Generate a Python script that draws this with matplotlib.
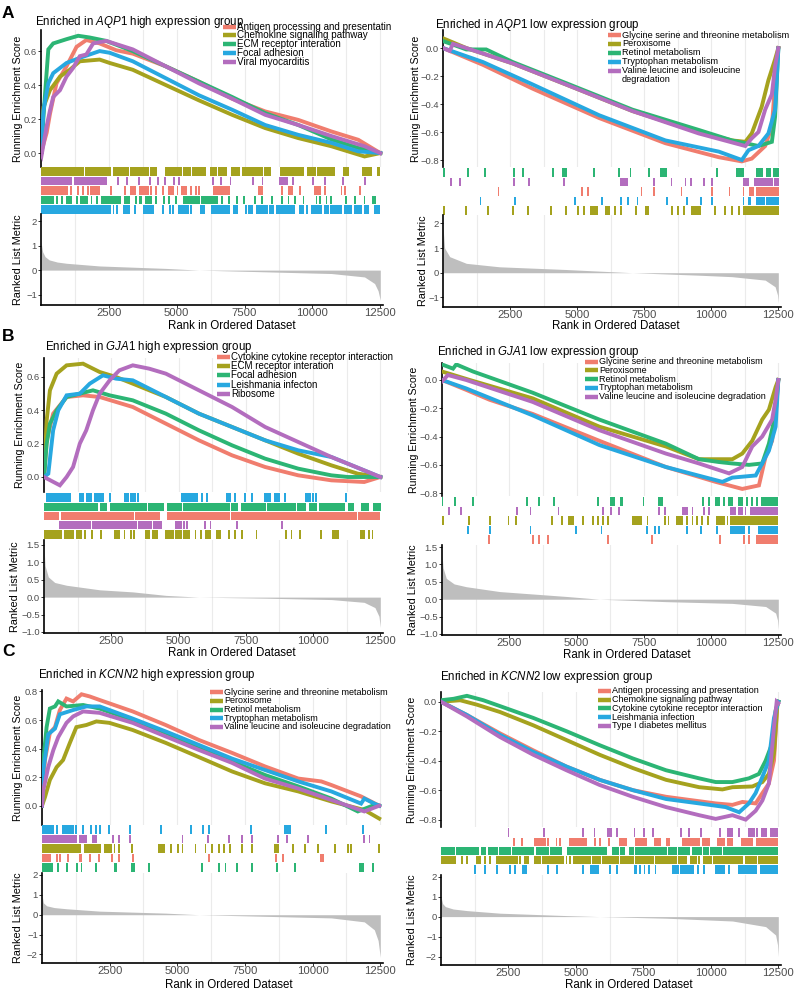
import matplotlib
matplotlib.use('Agg')
import matplotlib.pyplot as plt
from matplotlib.lines import Line2D

plt.rcParams['font.family'] = ['Liberation Sans', 'DejaVu Sans']
plt.rcParams['mathtext.fontset'] = 'custom'
plt.rcParams['mathtext.rm'] = 'Liberation Sans'
plt.rcParams['mathtext.it'] = 'Liberation Sans:italic'

palette = ['#F07D6E', '#A5A21E', '#2CB574', '#27A8E0', '#B36DBE']
xticks = [2500, 5000, 7500, 10000, 12500]

# ---------------- A : AQP1 high ----------------
aqp1_high_sets = ['Antigen processing and presentatin', 'Chemokine signaling pathway',
                  'ECM receptor interation', 'Focal adhesion', 'Viral myocarditis']
aqp1_high_rank = [
    [0, 210, 330, 570, 940, 1310, 1670, 2160, 2770, 3380, 4600, 5820, 7040, 8260, 9480, 10700, 11690, 12500],
    [0, 90, 330, 700, 1060, 1430, 2160, 2530, 3380, 4600, 5820, 7040, 8260, 9480, 10700, 11920, 12500],
    [0, 150, 270, 450, 940, 1370, 1790, 2400, 3380, 5820, 7040, 8260, 9480, 10700, 11690, 12500],
    [0, 90, 270, 450, 940, 1430, 2160, 2530, 3380, 4600, 5820, 7040, 8260, 9480, 10700, 11690, 12500],
    [0, 25, 210, 330, 450, 700, 940, 1180, 1430, 1670, 1920, 2400, 3380, 4600, 5820, 7040, 8260, 9480, 10700, 11920, 12500],
]
aqp1_high_es = [
    [0, 0.12, 0.23, 0.41, 0.51, 0.625, 0.665, 0.645, 0.605, 0.585, 0.51, 0.42, 0.32, 0.245, 0.195, 0.127, 0.078, 0.0],
    [0, 0.27, 0.37, 0.45, 0.49, 0.54, 0.55, 0.53, 0.49, 0.40, 0.31, 0.225, 0.147, 0.088, 0.04, -0.02, 0.0],
    [0, 0.35, 0.61, 0.645, 0.67, 0.69, 0.68, 0.66, 0.6, 0.42, 0.33, 0.235, 0.165, 0.08, 0.03, 0.0],
    [0, 0.25, 0.41, 0.47, 0.53, 0.56, 0.6, 0.59, 0.54, 0.44, 0.34, 0.255, 0.165, 0.107, 0.06, 0.01, 0.0],
    [0, -0.01, 0.16, 0.25, 0.33, 0.37, 0.45, 0.5, 0.57, 0.58, 0.645, 0.66, 0.61, 0.51, 0.41, 0.32, 0.225, 0.165, 0.1, 0.04, 0.0],
]
aqp1_high_hits = [
    [(0, 950), 1120, 1370, 1550, 1740, (1850, 2150), 2590, 3080, (3300, 3450), (3630, 3950), 4060, 4240, 4480,
     (4720, 4850), 5030, (5210, 5340), 5510, 5700, 5830, (6370, 6920), (8020, 8150), 8880, (9120, 9240), 9550,
     (10100, 10280), 10450, 11070, 11190, 11740],
    [(0, 1550), (1650, 2530), (2700, 2900), (3000, 3200), (3300, 3600), (3700, 3950), (4050, 4250), (4600, 5150),
     (5250, 5500), (5600, 5700), (5800, 6050), (6250, 6450), (6550, 6800), (7050, 7300), (7450, 8150), (8250, 8450),
     (8850, 9500), (9550, 9650), (9850, 10100), (10200, 10400), (10450, 10800), (11150, 11300), (11850, 12150), (12400, 12450)],
    [(0, 450), 580, 760, (940, 1120), 1310, (1490, 1680), 1860, 2050, (2230, 2540), (2600, 2900), (3080, 3260), 3500,
     (3630, 3690), (3870, 4050), 4240, 4540, 4720, 4970, (5270, 5830), (5940, 6430), 6490, 6680, 6930, 7230, 7470, 7890,
     8140, 8500, 8870, 9120, 9360, 9670, 10150, 10280, 10520, 10700, 11250, 11560, 11920, 12230, 12290],
    [(25, 635), (700, 1430), (1490, 1980), (2040, 2160), (2220, 2530), 2670, 2790, (3070, 3260), 3460, (3810, 4110), 4500,
     4750, 4870, (5090, 5330), 5420, 5540, (5880, 6000), (6310, 6730), (6800, 6920), (7100, 7220), 7550, (7650, 7770),
     (7950, 8320), (8440, 8560), (8690, 9240), 9320, (9540, 9660), 9810, (9970, 10330), (10460, 10580), (10700, 11070),
     (11190, 11430), (11550, 11800), (11920, 12040), (12290, 12470)],
    [(0, 950), (1000, 1100), (1250, 2050), (2150, 2400), 2830, 3160, 3620, 4000, 4300, 4560, 4900, 5100, 6330, 6640,
     6980, 7800, 8160, (8800, 9050), 9300, 10030, 10450, 11130, 11950],
]
aqp1_high_rows = [1, 4, 0, 2, 3]
aqp1_high_metric_rank = [0, 60, 150, 300, 600, 940, 2160, 4600, 5820, 8260, 10700, 11920, 12290, 12420, 12500]
aqp1_high_metric = [1.15, 0.75, 0.55, 0.42, 0.33, 0.28, 0.17, 0.07, 0.0, -0.07, -0.14, -0.28, -0.55, -0.85, -1.24]

# ---------------- A : AQP1 low ----------------
aqp1_low_sets = ['Glycine serine and threonine metabolism', 'Peroxisome', 'Retinol metabolism',
                 'Tryptophan metabolism', 'Valine leucine and isoleucine\ndegradation']
aqp1_low_rank = [
    [0, 1490, 3340, 5820, 8290, 10280, 11140, 11510, 12010, 12260, 12380, 12500],
    [0, 870, 2600, 4580, 7060, 9530, 10770, 11270, 11510, 11880, 12130, 12380, 12500],
    [0, 870, 1610, 2600, 4580, 7060, 9530, 10770, 11270, 11760, 12260, 12380, 12500],
    [0, 1490, 3340, 5820, 8290, 10280, 11140, 11390, 11760, 12130, 12380, 12500],
    [0, 250, 370, 870, 2600, 4580, 7060, 9530, 11270, 11510, 11760, 12010, 12260, 12380, 12500],
]
aqp1_low_es = [
    [0, -0.12, -0.29, -0.5, -0.68, -0.78, -0.81, -0.79, -0.7, -0.56, -0.25, 0],
    [0.07, 0, -0.11, -0.26, -0.45, -0.6, -0.66, -0.67, -0.61, -0.42, -0.23, -0.08, 0],
    [0.05, -0.01, -0.01, -0.1, -0.25, -0.44, -0.585, -0.66, -0.68, -0.70, -0.67, -0.49, 0],
    [0, -0.1, -0.26, -0.48, -0.66, -0.74, -0.8, -0.73, -0.7, -0.61, -0.44, -0.01],
    [0, -0.02, 0.03, 0, -0.11, -0.26, -0.45, -0.61, -0.70, -0.645, -0.6, -0.44, -0.33, -0.13, 0],
]
aqp1_low_hits = [
    [2070, 5170, 5420, 7400, 7860, 8890, 10030, 10680, 11200, (11450, 11570), (11700, 11830), (11870, 12000), (12050, 12500)],
    [40, 870, 1670, 2620, 3180, 4020, 4580, 5040, 5260, (5510, 5760), (6070, 6190), 6410, 6620, 7210, (7550, 7650), 8540,
     8770, 8980, (9280, 9590), 10150, 10520, 10770, 11020, (11200, 12500)],
    [40, 930, 1580, 2660, 2970, 4090, (4460, 4580), 5630, 6560, 6990, 7670, (8110, 8300), 10210, (10960, 11200),
     (11700, 11880), (12070, 12190), (12320, 12500)],
    [1400, 2690, 4930, 5940, 6650, 6900, 7250, 8360, 9110, 9630, 10030, 11200, (11390, 11450), (11700, 11950),
     (12070, 12200), (12260, 12500)],
    [310, 620, 2660, 3220, 4520, (6620, 6870), 7860, 8520, 9040, 9260, 9720, 10030, (11200, 11390), (11640, 12010),
     (12070, 12260), (12380, 12500)],
]
aqp1_low_rows = [2, 4, 0, 3, 1]
aqp1_low_metric_rank = [0, 60, 250, 870, 2100, 4580, 7060, 9530, 10770, 12010, 12380, 12470, 12500]
aqp1_low_metric = [1.85, 1.0, 0.65, 0.38, 0.24, 0.13, 0.0, -0.1, -0.16, -0.3, -0.57, -0.9, -1.24]

# ---------------- B : GJA1 high ----------------
gja1_high_sets = ['Cytokine cytokine receptor interaction', 'ECM receptor interation', 'Focal adhesion',
                  'Leishmania infecton', 'Ribosome']
gja1_high_rank = [
    [0, 100, 340, 840, 1450, 2070, 3300, 4530, 5760, 6990, 8220, 9450, 10680, 11900, 12500],
    [0, 100, 220, 470, 840, 1450, 2070, 2680, 3300, 4530, 5760, 6990, 8220, 9450, 10680, 11660, 12500],
    [0, 100, 220, 470, 840, 1570, 1820, 2440, 3300, 4530, 5760, 6990, 8220, 9450, 10680, 11290, 12500],
    [0, 160, 340, 530, 840, 1330, 1700, 2190, 2680, 3300, 4530, 5760, 6990, 8220, 9450, 10680, 11290, 12500],
    [0, 590, 840, 1080, 1330, 1570, 1820, 2070, 2440, 2800, 3300, 3910, 4530, 5760, 6990, 8220, 9450, 10680, 11900, 12500],
]
gja1_high_es = [
    [0, 0.22, 0.38, 0.48, 0.49, 0.48, 0.42, 0.32, 0.22, 0.13, 0.06, 0.01, -0.02, -0.03, 0],
    [0, 0.34, 0.52, 0.62, 0.67, 0.68, 0.63, 0.6, 0.56, 0.48, 0.38, 0.3, 0.22, 0.14, 0.07, 0.02, 0],
    [0, 0.2, 0.32, 0.4, 0.48, 0.51, 0.52, 0.49, 0.46, 0.38, 0.28, 0.19, 0.11, 0.05, 0.01, 0, 0],
    [0, 0.02, 0.28, 0.4, 0.49, 0.5, 0.56, 0.61, 0.59, 0.58, 0.48, 0.38, 0.3, 0.22, 0.16, 0.12, 0.08, 0],
    [0, -0.05, 0, 0.06, 0.2, 0.28, 0.4, 0.5, 0.58, 0.64, 0.67, 0.65, 0.62, 0.52, 0.42, 0.3, 0.21, 0.12, 0.04, 0],
]
gja1_high_hits = [
    [(40, 530), (650, 1450), (1510, 2070), (2130, 3300), (3420, 4280), (4590, 6250), (6310, 6860), (6990, 11600), (11720, 12460)],
    [(40, 650), (780, 900), (960, 1080), (1210, 1390), 1520, 1770, 2130, (2620, 2800), 2990, 3240, 3360, (3790, 3910),
     (4040, 4220), (4530, 4780), (4900, 5080), (5210, 5390), 5630, 5820, (6010, 6190), (6430, 6560), 6860, 7110, 7360,
     7900, 9010, 9200, 9510, 10310, (10740, 10920), (11780, 11900), 12090, 12210],
    [(40, 1990), (2130, 2310), (2500, 2870), (2940, 3530), (3600, 3780), (3910, 4150), (4220, 4410), (4590, 4830),
     (4900, 5080), (5210, 5450), (5510, 5820), (5880, 6130), (6190, 6860), (6990, 7170), (7360, 8220), (8340, 8710),
     (8770, 9320), (9450, 9690), (9880, 10120), (10250, 10490), (10550, 11170), (11350, 11470), (11810, 12050), (12250, 12500)],
    [(100, 350), (400, 650), (700, 960), (1330, 1450), (1580, 1760), (1880, 2190), 2440, (2990, 3130), (3240, 3370), 3480,
     (5140, 5450), (5510, 5700), 5880, 6070, (6800, 6920), 7110, 7480, 7720, (8220, 8400), (8590, 8720), 8960,
     (9750, 9880), 10000, 10120, 11230],
    [(590, 830), (900, 1700), (1820, 3420), (3530, 3780), (3840, 3970), (4090, 4340), (4900, 5080), 5200, 5330, 5990,
     6190, 7170, 8830],
]
gja1_high_rows = [3, 2, 0, 4, 1]
gja1_high_metric_rank = [0, 40, 160, 400, 840, 2070, 3300, 4530, 5760, 8220, 10680, 11900, 12300, 12450, 12500]
gja1_high_metric = [1.45, 0.9, 0.58, 0.42, 0.34, 0.21, 0.15, 0.05, 0.0, -0.03, -0.07, -0.15, -0.3, -0.55, -0.87]

# ---------------- B : GJA1 low ----------------
gja1_low_sets = ['Glycine serine and threonine metabolism', 'Peroxisome', 'Retinol metabolism',
                 'Tryptophan metabolism', 'Valine leucine and isoleucine degradation']
gja1_low_rank = [
    [0, 900, 1770, 3370, 5850, 8320, 10170, 11160, 11780, 12030, 12270, 12500],
    [0, 1030, 3370, 5850, 8320, 9550, 10790, 11160, 11530, 11900, 12150, 12400, 12500],
    [0, 410, 530, 1150, 3370, 5850, 8320, 9550, 10300, 10790, 11410, 11900, 12150, 12400, 12500],
    [0, 900, 3370, 5850, 8320, 10420, 10790, 11660, 11900, 12150, 12400, 12500],
    [0, 220, 900, 3370, 5850, 8320, 9550, 10670, 11160, 11530, 11900, 12270, 12400, 12500],
]
gja1_low_es = [
    [0, -0.07, -0.14, -0.24, -0.43, -0.615, -0.72, -0.77, -0.745, -0.54, -0.43, 0],
    [0.06, 0, -0.13, -0.33, -0.47, -0.56, -0.56, -0.52, -0.43, -0.28, -0.21, -0.05, 0],
    [0.11, 0.08, 0.11, 0.06, -0.09, -0.28, -0.45, -0.56, -0.58, -0.59, -0.6, -0.59, -0.45, -0.24, 0],
    [0, -0.06, -0.25, -0.46, -0.615, -0.72, -0.69, -0.675, -0.59, -0.5, -0.33, 0],
    [-0.01, 0.035, 0, -0.155, -0.355, -0.52, -0.59, -0.66, -0.615, -0.47, -0.4, -0.28, -0.14, 0],
]
gja1_low_hits = [
    [1740, 3370, 3600, 3930, 6180, 7790, 10330, 11220, 11410, (11720, 12460)],
    [40, 1000, 1800, 2470, 2760, 4080, 4460, (4730, 4860), 5230, 5600, 5810, 5970, 6180, (7080, 7390), 7640, 8280,
     8420, (8750, 8940), 9120, 9310, 9490, 9680, 9890, (10230, 10480), 10610, (10730, 12460)],
    [10, 470, 1150, 3160, 3620, 4150, 5810, (6280, 6400), (6650, 6710), 7490, (8070, 8190), 9700, 9920, (10170, 10300),
     10480, (10670, 10790), (11040, 11160), 11350, 11530, 11720, (11900, 12460)],
    [960, 1770, 3290, 4980, 5930, 7610, 7910, 8070, 9120, 9620, 10210, (10730, 11220), 11410, (11780, 12460)],
    [250, 690, 2790, 3290, 4330, 5970, 6280, 6590, 8070, 8280, (8940, 9120), 9310, 9740, 9920, (10730, 10910),
     (11040, 11160), 11280, (11470, 11840), (11900, 12460)],
]
gja1_low_rows = [2, 4, 1, 3, 0]
gja1_low_metric_rank = [0, 40, 160, 450, 900, 2140, 4610, 5850, 8320, 10790, 12030, 12400, 12470, 12500]
gja1_low_metric = [1.33, 0.9, 0.6, 0.44, 0.36, 0.22, 0.08, 0.0, -0.07, -0.12, -0.21, -0.4, -0.6, -0.88]

# ---------------- C : KCNN2 high ----------------
kcnn2_high_sets = ['Glycine serine and threonine metabolism', 'Peroxisome', 'Retinol metabolism',
                   'Tryptophan metabolism', 'Valine leucine and isoleucine degradation']
kcnn2_high_rank = [
    [0, 110, 290, 480, 660, 905, 1150, 1460, 1760, 2130, 3350, 4570, 5800, 7020, 8240, 9470, 10320, 10690, 11790, 12460],
    [0, 110, 290, 540, 780, 1030, 1270, 1640, 2010, 2490, 3350, 4570, 5800, 7020, 8240, 9470, 10690, 11910, 12460],
    [0, 50, 170, 290, 480, 600, 905, 1520, 2130, 3350, 4570, 5800, 7020, 8240, 9470, 10690, 11670, 12280, 12460],
    [0, 50, 230, 480, 660, 1150, 1640, 2130, 3350, 4570, 5800, 7020, 8240, 9470, 10690, 11790, 11910, 12280, 12460],
    [0, 50, 230, 420, 600, 905, 1150, 1520, 2130, 3350, 4570, 5800, 7020, 8240, 9470, 10690, 11910, 12460],
]
kcnn2_high_es = [
    [0, 0.32, 0.51, 0.55, 0.67, 0.75, 0.73, 0.78, 0.765, 0.74, 0.66, 0.565, 0.46, 0.37, 0.275, 0.19, 0.17, 0.145, 0.065, 0],
    [0, 0.06, 0.18, 0.27, 0.32, 0.44, 0.55, 0.565, 0.59, 0.58, 0.53, 0.44, 0.34, 0.24, 0.157, 0.1, 0.03, -0.03, -0.09],
    [0, 0.32, 0.55, 0.68, 0.695, 0.73, 0.695, 0.705, 0.68, 0.6, 0.51, 0.4, 0.31, 0.215, 0.135, 0.05, -0.04, 0.005, 0],
    [0, 0.25, 0.5, 0.54, 0.64, 0.67, 0.695, 0.695, 0.61, 0.52, 0.425, 0.33, 0.25, 0.17, 0.1, 0.015, 0.05, 0.015, 0],
    [0, 0.11, 0.27, 0.39, 0.48, 0.58, 0.625, 0.66, 0.65, 0.58, 0.485, 0.39, 0.3, 0.19, 0.12, 0.04, -0.04, 0],
]
kcnn2_high_hits = [
    [(0, 290), 540, 660, 970, 1390, 1460, 1760, 2090, 2590, 2840, 3350, 6160, 8650, 8920, (10320, 10380)],
    [(50, 1390), (1580, 2130), (2310, 2560), 2680, 2840, 3330, (4330, 4510), 4760, 5010, 5190, 5670, 6040, 6290, 6530,
     6720, 6960, 7390, 7750, (8610, 8730), 9280, 9710, 10200, 10810, 11300, 11420, 12460],
    [(0, 360), 600, 910, 1300, 1460, 2010, (2680, 2740), 3330, 3410, 3960, 5920, 6530, 6780, 7200, 7750, 8670, 9340,
     (11730, 11850), 12220],
    [(0, 420), 540, (780, 1150), 1270, 1520, 1820, 2010, 2130, 2460, 3250, 4390, 5520, 5940, 6160, 7730, (8980, 9160),
     10510, 11850],
    [(0, 1270), (1390, 1640), (1880, 2010), 2620, 2830, 3250, 5190, 6140, 6900, 7390, 7750, 8710, 9040, 9830, 11910, 12100],
]
kcnn2_high_rows = [3, 4, 1, 0, 2]
kcnn2_high_metric_rank = [0, 50, 170, 450, 905, 2130, 4570, 5800, 8240, 10690, 11910, 12280, 12420, 12500]
kcnn2_high_metric = [1.0, 0.6, 0.45, 0.36, 0.3, 0.18, 0.08, 0.0, -0.08, -0.16, -0.36, -0.76, -1.3, -2.15]

# ---------------- C : KCNN2 low ----------------
kcnn2_low_sets = ['Antigen processing and presentation', 'Chemokine signaling pathway',
                  'Cytokine cytokine receptor interaction', 'Leishmania infection', 'Type I diabetes mellitus']
kcnn2_low_rank = [
    [0, 960, 2190, 3420, 4650, 5880, 7110, 8340, 8950, 10180, 10800, 11170, 11660, 11910, 12150, 12340, 12460, 12500],
    [0, 710, 1330, 2190, 3420, 4650, 5880, 7110, 8340, 9570, 10430, 10800, 11540, 11910, 12150, 12340, 12460, 12500],
    [0, 470, 960, 1570, 2190, 3420, 4650, 5880, 7110, 8340, 9570, 10180, 10800, 11410, 11780, 12030, 12280, 12400, 12500],
    [0, 960, 2190, 3420, 4650, 5880, 7110, 8340, 9570, 10550, 11050, 11410, 11660, 11910, 12150, 12340, 12500],
    [0, 960, 2190, 3420, 4650, 5880, 7110, 8340, 9570, 10180, 10800, 11290, 11660, 11910, 12150, 12340, 12440, 12500],
]
kcnn2_low_es = [
    [0, -0.09, -0.215, -0.33, -0.44, -0.53, -0.6, -0.645, -0.66, -0.69, -0.7, -0.68, -0.69, -0.62, -0.555, -0.4, -0.03, 0],
    [0, 0.01, -0.02, -0.07, -0.16, -0.26, -0.36, -0.45, -0.53, -0.58, -0.595, -0.58, -0.575, -0.545, -0.49, -0.35, -0.03, 0],
    [0.01, 0.02, 0.04, 0.01, -0.03, -0.11, -0.2, -0.295, -0.385, -0.465, -0.52, -0.545, -0.545, -0.52, -0.49, -0.4, -0.28, -0.06, 0],
    [0, -0.09, -0.225, -0.34, -0.44, -0.53, -0.6, -0.66, -0.69, -0.715, -0.75, -0.69, -0.62, -0.51, -0.4, -0.11, 0],
    [0, -0.1, -0.24, -0.36, -0.465, -0.565, -0.645, -0.715, -0.77, -0.795, -0.77, -0.8, -0.74, -0.67, -0.555, -0.17, 0, -0.01],
]
kcnn2_low_hits = [
    [2720, 2990, (3480, 3850), 3970, 4280, 4400, (4770, 5140), (5200, 5390), 5700, 5880, 6220, (6620, 6860),
     (7230, 7600), (7910, 8100), (8360, 8460), (8950, 9330), (9390, 9570), (9690, 9940), (10250, 10490),
     (10620, 10800), (11170, 11540), (11720, 12460)],
    [(0, 470), 530, 780, 960, (1330, 1450), 1640, 1820, (2070, 2800), 2930, (3110, 3230), (3480, 3670), (3790, 4530),
     4650, 4770, (4920, 5510), (5630, 5880), (6000, 6130), (6190, 6560), (6680, 7110), (7230, 7360), (7420, 7850),
     (7970, 8710), (8830, 9080), (9260, 9450), 9570, (9760, 10000), (10120, 10550), (10620, 10800), (10860, 11170),
     (11290, 11660), (11780, 12460)],
    [(0, 470), (590, 1390), (1510, 1640), (1760, 1890), (1950, 2070), (2190, 2560), (2680, 3120), (3180, 3420),
     (3540, 3730), (3790, 3970), (4090, 4460), (4710, 5760), (5820, 6130), (6370, 6560), (6680, 6800), (6990, 7110),
     (7230, 7420), (7480, 8340), (8460, 8710), (8830, 9200), (9330, 9630), (9760, 9880), (10000, 10370),
     (10490, 10860), (10920, 11540), (11600, 12460)],
    [1270, 1640, 2070, 2560, 2740, (3050, 3170), 3970, 4300, 5260, (5570, 5820), 6250, 6520, (7170, 7230), 7360, 7540,
     7720, 7950, (8580, 8770), (8890, 9330), 9510, 9760, (10180, 10490), 10680, (11050, 11660), (11850, 12460)],
    [2500, 3810, 5260, 5690, (6180, 6310), 6520, 7170, 7530, 7850, 8890, 9200, 9630, 10330, (10620, 10800), 11050,
     (11420, 11600), 11720, (11910, 12030), (12210, 12460)],
]
kcnn2_low_rows = [4, 0, 2, 1, 3]
kcnn2_low_metric_rank = [0, 60, 160, 450, 960, 2190, 4650, 5880, 8340, 10800, 12030, 12400, 12470, 12500]
kcnn2_low_metric = [1.0, 0.65, 0.5, 0.38, 0.3, 0.17, 0.05, 0.0, -0.08, -0.22, -0.5, -0.92, -1.4, -2.0]

# ---------------- layout (pixels) ----------------
W, H = 794, 991
fig = plt.figure(figsize=(W / 100, H / 100), dpi=100)


def fbox(x0, x1, y0, y1):
    return [x0 / W, 1 - y1 / H, (x1 - x0) / W, (y1 - y0) / H]


def ftext(x, y, s, **kw):
    return fig.text(x / W, 1 - y / H, s, **kw)


def minus(v, fmt):
    return (fmt % v).replace('-', '\u2212')


panels = [
    dict(gene='AQP1', side='high', sets=aqp1_high_sets, rank=aqp1_high_rank, es=aqp1_high_es,
         hits=aqp1_high_hits, rows=aqp1_high_rows, mrank=aqp1_high_metric_rank, metric=aqp1_high_metric,
         x=(41, 383), es_y=(30, 167), rug_y=(167, 214), rk_y=(214, 305),
         es_lim=(-0.082, 0.724), es_ticks=[0.0, 0.2, 0.4, 0.6],
         rk_lim=(-1.43, 2.3), rk_ticks=[-1, 0, 1, 2], rk_fmt='%d',
         title=(35, 22), leg=(223, 26.7, 8.75), leg_fs=7.1, ylab=(18, 18), xlab=(232, 326)),
    dict(gene='AQP1', side='low', sets=aqp1_low_sets, rank=aqp1_low_rank, es=aqp1_low_es,
         hits=aqp1_low_hits, rows=aqp1_low_rows, mrank=aqp1_low_metric_rank, metric=aqp1_low_metric,
         x=(443, 781), es_y=(30, 167), rug_y=(168, 215), rk_y=(215, 307),
         es_lim=(-0.85, 0.129), es_ticks=[0.0, -0.2, -0.4, -0.6, -0.8],
         rk_lim=(-1.39, 2.34), rk_ticks=[-1, 0, 1, 2], rk_fmt='%d',
         title=(435, 25), leg=(608, 35, 8.9), leg_fs=6.55, ylab=(416, 423), xlab=(616, 326)),
    dict(gene='GJA1', side='high', sets=gja1_high_sets, rank=gja1_high_rank, es=gja1_high_es,
         hits=gja1_high_hits, rows=gja1_high_rows, mrank=gja1_high_metric_rank, metric=gja1_high_metric,
         x=(44, 383), es_y=(358, 492), rug_y=(493, 539), rk_y=(540, 633),
         es_lim=(-0.09, 0.714), es_ticks=[0.0, 0.2, 0.4, 0.6],
         rk_lim=(-1.03, 1.64), rk_ticks=[-1.0, -0.5, 0.0, 0.5, 1.0, 1.5], rk_fmt='%.1f',
         title=(45, 347), leg=(217, 356.7, 9.3), leg_fs=7.0, ylab=(20, 15), xlab=(232, 653)),
    dict(gene='GJA1', side='low', sets=gja1_low_sets, rank=gja1_low_rank, es=gja1_low_es,
         hits=gja1_low_hits, rows=gja1_low_rows, mrank=gja1_low_metric_rank, metric=gja1_low_metric,
         x=(442, 781), es_y=(363, 496), rug_y=(497, 544), rk_y=(545, 635),
         es_lim=(-0.82, 0.12), es_ticks=[0.0, -0.2, -0.4, -0.6, -0.8],
         rk_lim=(-1.03, 1.56), rk_ticks=[-1.0, -0.5, 0.0, 0.5, 1.0, 1.5], rk_fmt='%.1f',
         title=(437, 352), leg=(585, 361.7, 8.75), leg_fs=6.5, ylab=(414, 413), xlab=(627, 655)),
    dict(gene='KCNN2', side='high', sets=kcnn2_high_sets, rank=kcnn2_high_rank, es=kcnn2_high_es,
         hits=kcnn2_high_hits, rows=kcnn2_high_rows, mrank=kcnn2_high_metric_rank, metric=kcnn2_high_metric,
         x=(42, 383), es_y=(690, 825), rug_y=(825, 872), rk_y=(873, 963),
         es_lim=(-0.135, 0.81), es_ticks=[0.0, 0.2, 0.4, 0.6, 0.8],
         rk_lim=(-2.43, 2.1), rk_ticks=[-2, -1, 0, 1, 2], rk_fmt='%d',
         title=(38, 675), leg=(210, 692.3, 8.6), leg_fs=6.5, ylab=(18, 18), xlab=(229, 985)),
    dict(gene='KCNN2', side='low', sets=kcnn2_low_sets, rank=kcnn2_low_rank, es=kcnn2_low_es,
         hits=kcnn2_low_hits, rows=kcnn2_low_rows, mrank=kcnn2_low_metric_rank, metric=kcnn2_low_metric,
         x=(441, 781), es_y=(692, 827), rug_y=(828, 874), rk_y=(875, 965),
         es_lim=(-0.85, 0.066), es_ticks=[0.0, -0.2, -0.4, -0.6, -0.8],
         rk_lim=(-2.42, 2.08), rk_ticks=[-2, -1, 0, 1, 2], rk_fmt='%d',
         title=(440, 677), leg=(598, 690.7, 8.8), leg_fs=6.5, ylab=(412, 412), xlab=(629, 985)),
]

XMAX = 12600
grid_major = [1250 * k for k in range(1, 11)]
grid_minor = [1250, 3750, 6250, 8750, 11250]
tick_grey = '#4D4D4D'

for p in panels:
    x0, x1 = p['x']

    # running enrichment score
    ax = fig.add_axes(fbox(x0, x1, *p['es_y']))
    for g in grid_major:
        ax.axvline(g, color='#EBEBEB', lw=0.8, zorder=0)
    for i in range(5):
        ax.plot(p['rank'][i], p['es'][i], color=palette[i], lw=2.8, solid_joinstyle='miter', zorder=2 + i)
    ax.set_xlim(0, XMAX)
    ax.set_ylim(*p['es_lim'])
    ax.set_yticks(p['es_ticks'])
    ax.set_yticklabels([minus(v, '%.1f') for v in p['es_ticks']])
    ax.set_xticks([])
    for s in ['top', 'right', 'bottom']:
        ax.spines[s].set_visible(False)
    ax.spines['left'].set_linewidth(1.2)
    ax.tick_params(axis='y', labelsize=6.8, labelcolor=tick_grey, color='#333333', length=2, width=0.7, pad=1)
    ax.patch.set_alpha(0)

    # hits rug
    rug = fig.add_axes(fbox(x0, x1, *p['rug_y']))
    for row, idx in enumerate(p['rows']):
        segs = []
        for h in p['hits'][idx]:
            if isinstance(h, tuple):
                segs.append((h[0] - 35, h[1] - h[0] + 70))
            else:
                segs.append((h - 35, 70))
        rug.broken_barh(segs, (4 - row + 0.04, 0.92), facecolors=palette[idx], lw=0)
    rug.set_xlim(0, XMAX)
    rug.set_ylim(0, 5)
    rug.axis('off')

    # ranked list metric
    rk = fig.add_axes(fbox(x0, x1, *p['rk_y']))
    for g in grid_minor:
        rk.axvline(g, color='#EBEBEB', lw=0.8, zorder=0)
    rk.fill_between(p['mrank'], p['metric'], 0, color='#BEBEBE', lw=0, zorder=2)
    rk.set_xlim(0, XMAX)
    rk.set_ylim(*p['rk_lim'])
    rk.set_yticks(p['rk_ticks'])
    rk.set_yticklabels([minus(v, p['rk_fmt']) for v in p['rk_ticks']])
    rk.set_xticks(xticks)
    rk.set_xticklabels([str(v) for v in xticks])
    for s in ['top', 'right']:
        rk.spines[s].set_visible(False)
    rk.spines['left'].set_linewidth(1.2)
    rk.spines['bottom'].set_linewidth(1.2)
    rk.tick_params(axis='y', labelsize=6.8, labelcolor=tick_grey, color='#333333', length=2, width=0.7, pad=1)
    rk.tick_params(axis='x', labelsize=8.2, labelcolor=tick_grey, color='#333333', length=2, width=0.7, pad=0.5)
    rk.patch.set_alpha(0)

    # text
    tx, ty = p['title']
    ftext(tx, ty, 'Enriched in $\\mathit{%s}$ %s expression group' % (p['gene'], p['side']),
          fontsize=8.3, ha='left', va='center')
    ey = (p['es_y'][0] + p['es_y'][1]) / 2
    ry = (p['rk_y'][0] + p['rk_y'][1]) / 2
    ftext(p['ylab'][0], ey, 'Running Enrichment Score', fontsize=7.6, rotation=90, ha='center', va='center')
    ftext(p['ylab'][1], ry, 'Ranked List Metric', fontsize=7.8, rotation=90, ha='center', va='center')
    ftext(p['xlab'][0], p['xlab'][1], 'Rank in Ordered Dataset', fontsize=8.3, ha='center', va='center')

    # legend
    kx, ly, dy = p['leg']
    for i, name in enumerate(p['sets']):
        y = ly + i * dy
        fig.add_artist(Line2D([kx / W, (kx + 13) / W], [1 - y / H, 1 - y / H], transform=fig.transFigure,
                              color=palette[i], lw=3.2, solid_capstyle='butt'))
        if '\n' in name:
            ftext(kx + 14, y - 4.6, name, fontsize=p['leg_fs'], ha='left', va='top', linespacing=0.95)
        else:
            ftext(kx + 14, y, name, fontsize=p['leg_fs'], ha='left', va='center')

for lab, y in [('A', 13), ('B', 337), ('C', 651)]:
    ftext(2, y, lab, fontsize=12.5, fontweight='bold', ha='left', va='center')

fig.savefig('out.png', dpi=100)
